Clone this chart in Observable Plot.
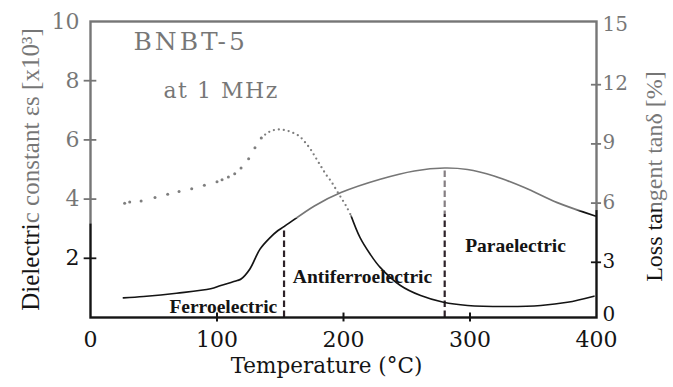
<!DOCTYPE html>
<html>
<head>
<meta charset="utf-8">
<script src="https://cdn.jsdelivr.net/npm/d3@7"></script>
<script src="https://cdn.jsdelivr.net/npm/@observablehq/plot@0.6"></script>
<style>
  body { margin: 0; background: #fff; }
  #chart { position: relative; width: 673px; height: 387px; overflow: hidden; }
  #chart svg { display: block; }
  /* lighter print in the upper part of the figure */
  #fade {
    position: absolute; left: 0; top: 0; width: 673px; height: 228px;
    background: rgba(255, 255, 255, 0.42);
    clip-path: polygon(0 0, 100% 0, 100% 208px, 0 226px);
    pointer-events: none;
  }
</style>
</head>
<body>
<div id="chart"></div>
<script>
// Dielectric constant εs (×10³), left axis
const epsTemp  = [26, 42, 68, 95, 103, 116, 119, 126, 134, 142, 148, 153, 177, 198, 229, 256, 280, 298, 319, 343, 369, 399];
const epsValue = [0.66, 0.71, 0.82, 0.97, 1.08, 1.25, 1.30, 1.64, 2.31, 2.70, 2.93, 3.07, 3.77, 4.22, 4.67, 4.95, 5.05, 5.00, 4.78, 4.39, 3.88, 3.43];

// Loss tangent tanδ (%), right axis
const lossTemp  = [27, 31, 40, 51, 61, 70, 80, 90, 100, 104, 109, 114, 119, 125, 130, 135, 140, 145, 149, 154, 159, 165, 170, 174, 178, 182, 186, 190, 194, 198, 202, 206, 213, 221, 229, 245, 261, 279, 298, 329, 356, 377, 398];
const lossValue = [5.79, 5.85, 5.91, 6.08, 6.25, 6.38, 6.53, 6.70, 6.88, 6.98, 7.12, 7.29, 7.58, 8.05, 8.60, 9.10, 9.36, 9.50, 9.53, 9.49, 9.39, 9.19, 8.85, 8.52, 8.10, 7.68, 7.26, 6.92, 6.50, 6.08, 5.66, 5.15, 4.06, 3.22, 2.54, 1.62, 1.11, 0.77, 0.61, 0.56, 0.61, 0.77, 1.08];

// Axis ticks
const xTicks     = [0, 100, 200, 300, 400];
const leftTicks  = [2, 4, 6, 8, 10];
const rightTicks = [0, 3, 6, 9, 12, 15];

// Phase transition temperatures and phase names
const phaseBounds = [153, 280];
const phaseNames  = ["Ferroelectric", "Antiferroelectric", "Paraelectric"];

// tanδ (0–15 %) shares the plot height with εs (0–10)
const k = 15 / 10;
const eps  = epsTemp.map((t, i) => ({t, v: epsValue[i]}));
const loss = lossTemp.map((t, i) => ({t, v: lossValue[i] / k}));
const epsAt = (t) => epsValue[epsTemp.indexOf(t)];
const rightFormat = (d) => String(Math.round(d * k));

const ink = "#141414";
const serif = "'DejaVu Serif', serif";
const times = "'Liberation Serif', 'Times New Roman', serif";

const plot = Plot.plot({
  width: 673,
  height: 387,
  marginLeft: 90,
  marginRight: 77,
  marginTop: 21,
  marginBottom: 70,
  style: {fontFamily: serif, fontSize: "22px", color: ink, background: "transparent"},
  x: {domain: [0, 400]},
  y: {domain: [0, 10]},
  marks: [
    // phase boundaries
    Plot.ruleX(phaseBounds, {y1: 0, y2: (b) => epsAt(b), stroke: "#2e2228", strokeWidth: 2.2, strokeDasharray: "6.5,3.5"}),

    // tanδ: sparse dots, then a fine dotted run, then solid
    Plot.dot(loss.filter((d) => d.t <= 135), {x: "t", y: "v", r: 1.5, fill: "#222", stroke: "none"}),
    Plot.line(loss.filter((d) => d.t >= 135 && d.t <= 206), {x: "t", y: "v", curve: "catmull-rom", stroke: "#222", strokeWidth: 2.3, strokeLinecap: "round", strokeDasharray: "0,5"}),
    Plot.line(loss.filter((d) => d.t >= 206), {x: "t", y: "v", curve: "catmull-rom", stroke: ink, strokeWidth: 1.6}),

    // εs
    Plot.line(eps, {x: "t", y: "v", curve: "catmull-rom", stroke: ink, strokeWidth: 1.7}),

    // frame and crossing ticks
    Plot.frame({stroke: ink, strokeWidth: 2.4}),
    Plot.ruleX(xTicks.slice(1, -1), {y1: -0.15, y2: 0.15, stroke: ink, strokeWidth: 2}),
    Plot.ruleY(leftTicks.slice(0, -1), {x1: -5, x2: 5, stroke: ink, strokeWidth: 1.8}),
    Plot.ruleY(rightTicks.slice(1, -1).map((d) => d / k), {x1: 396, x2: 404, dy: 4, stroke: ink, strokeWidth: 1.8}),

    // tick labels
    Plot.axisX({ticks: xTicks, tickSize: 0, tickPadding: 14, fontSize: 22, label: null}),
    Plot.axisY({ticks: leftTicks, anchor: "left", tickSize: 0, tickPadding: 11, fontSize: 22, label: null}),
    Plot.axisY({ticks: rightTicks.slice(1).map((d) => d / k), anchor: "right", tickSize: 0, tickPadding: 6, fontSize: 20, dy: 3,
                tickFormat: rightFormat, label: null}),
    Plot.axisY({ticks: rightTicks.slice(0, 1).map((d) => d / k), anchor: "right", tickSize: 0, tickPadding: 6, fontSize: 20, dy: -3,
                tickFormat: rightFormat, label: null}),

    // axis titles
    Plot.text(["Temperature (°C)"], {text: (d) => d, frameAnchor: "bottom", dx: -17, dy: 55, fontSize: 21.5}),
    Plot.text(["Dielectric constant εs [x10³]"], {text: (d) => d, frameAnchor: "left", textAnchor: "middle", rotate: -90, dx: -60, fontFamily: times, fontSize: 25}),
    Plot.text(["Loss tangent tanδ [%]"], {text: (d) => d, frameAnchor: "right", textAnchor: "middle", rotate: -90, dx: 58, dy: 7, fontFamily: times, fontSize: 24}),

    // sample and frequency
    Plot.text(["BNBT-5"], {text: (d) => d, frameAnchor: "top-left", textAnchor: "start", lineAnchor: "top", dx: 43, dy: 11, fontSize: 25}),
    Plot.text(["at 1 MHz"], {text: (d) => d, frameAnchor: "top-left", textAnchor: "start", lineAnchor: "top", dx: 73, dy: 61, fontSize: 22}),

    // phase names
    Plot.text(phaseNames, {text: (d) => d, x: [105, 215, 336], y: [0.35, 1.36, 2.42], fontFamily: times, fontWeight: "bold", fontSize: 19.5, fill: ink})
  ]
});

const chart = document.getElementById("chart");
chart.appendChild(plot);

// spaced-out lettering of the sample and frequency notes
const spacing = {"BNBT-5": 3, "at 1 MHz": 1.5};
d3.select(plot).selectAll("text").each(function () {
  const s = spacing[this.textContent];
  if (s != null) this.setAttribute("letter-spacing", s);
});

const fade = document.createElement("div");
fade.id = "fade";
chart.appendChild(fade);
</script>
</body>
</html>
